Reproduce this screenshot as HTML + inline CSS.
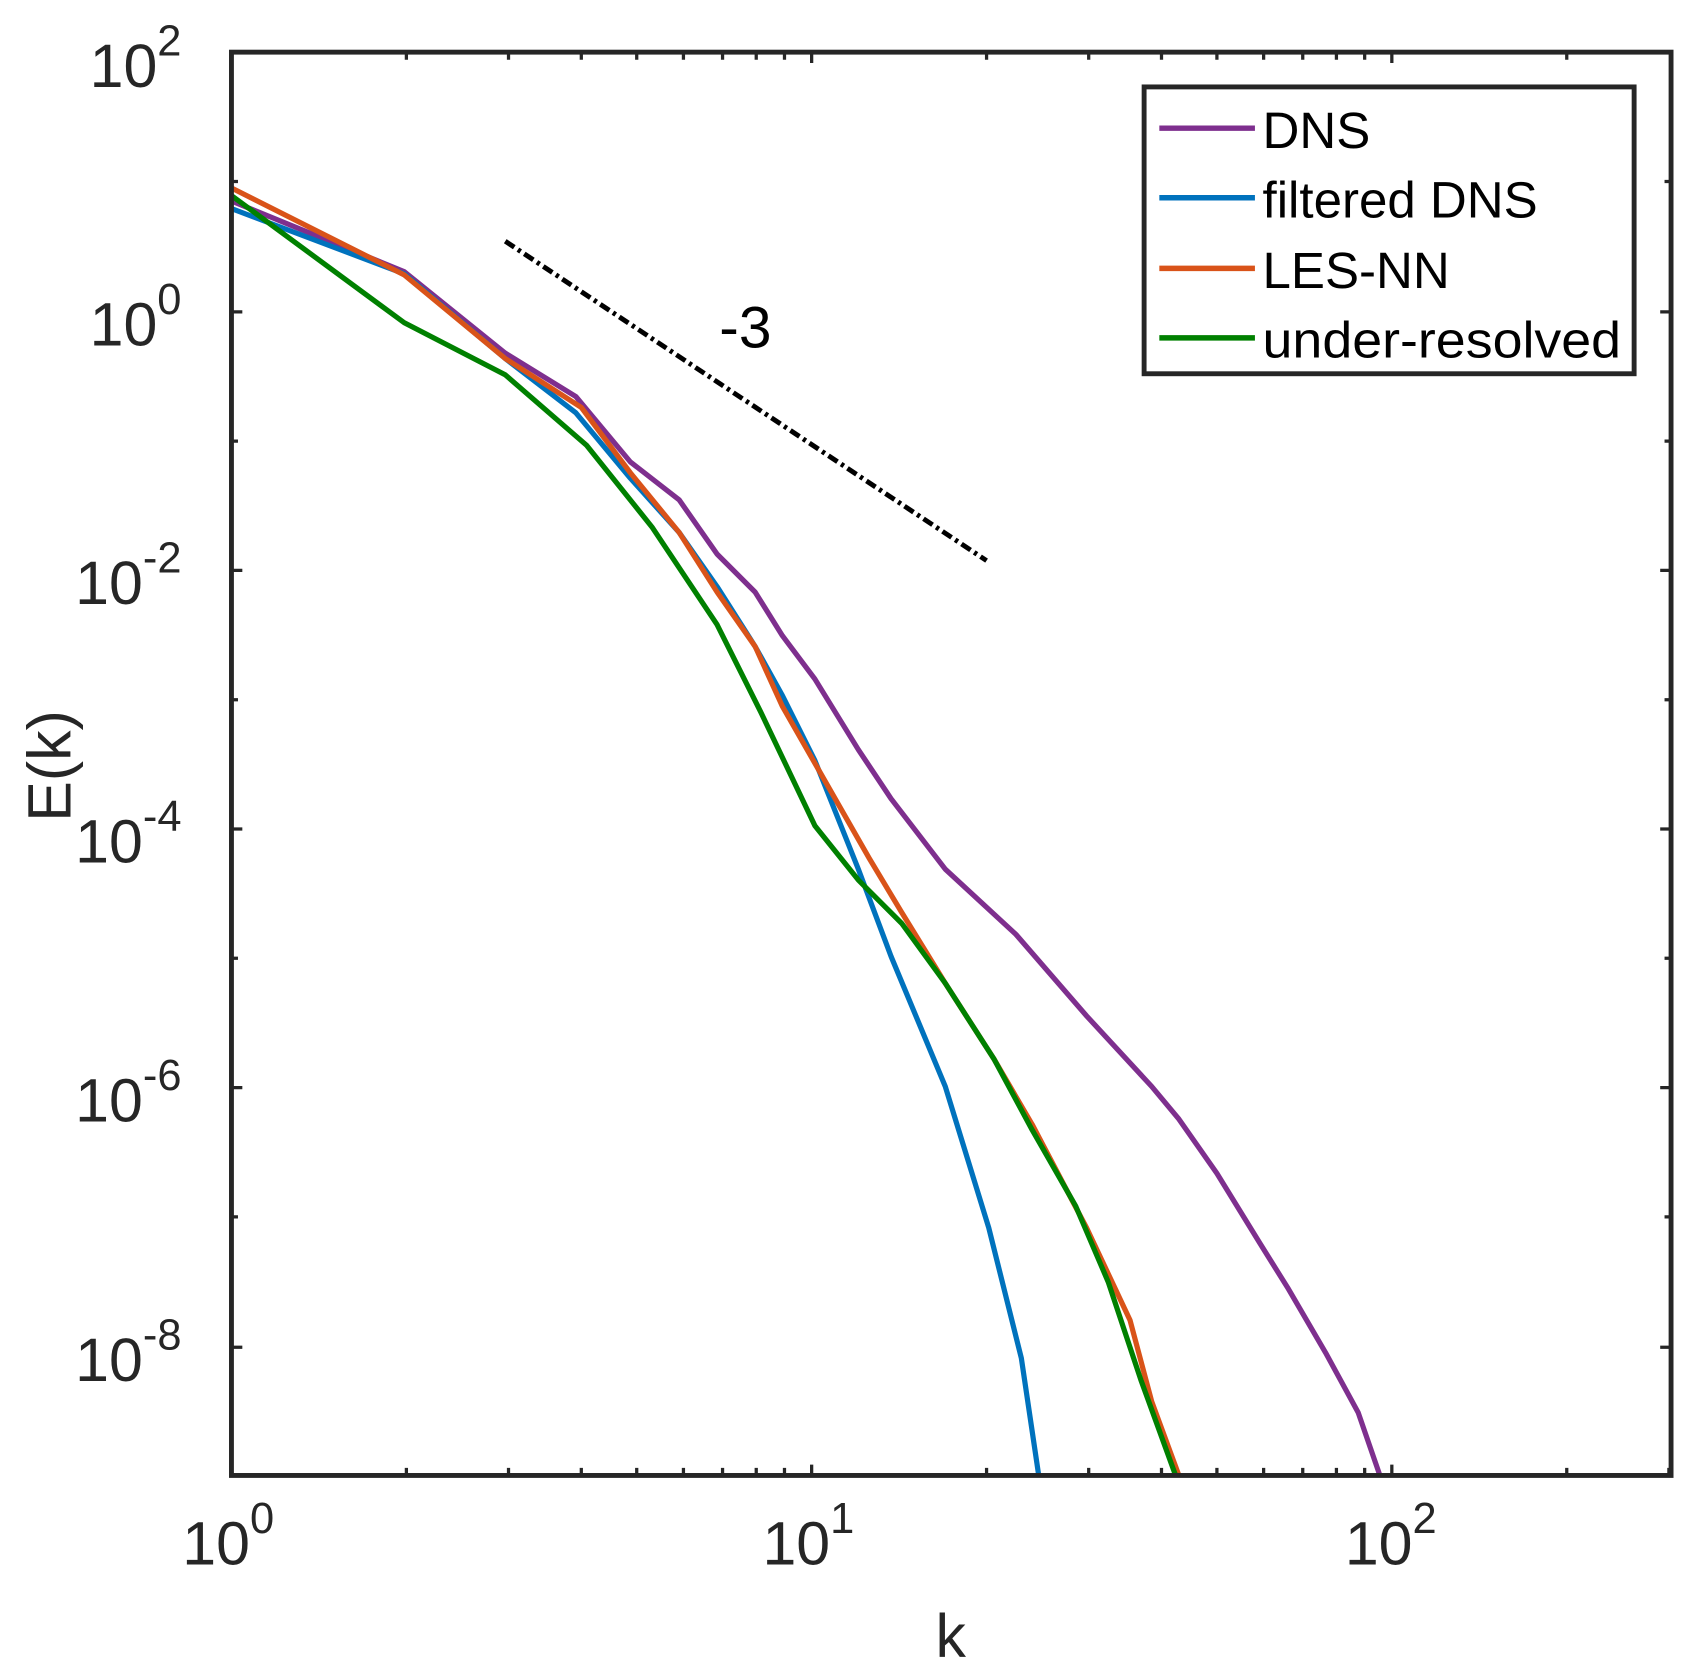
<!DOCTYPE html>
<html><head><meta charset="utf-8"><style>
html,body{margin:0;padding:0;background:#fff;}
svg{display:block;}
text{font-family:"Liberation Sans",Arial,sans-serif;fill:#262626;}
</style></head><body>
<svg width="1695" height="1677" viewBox="0 0 1560 1543.5" xmlns="http://www.w3.org/2000/svg">
<rect width="1560" height="1543.5" fill="#fff"/>
<g fill="none" stroke-linejoin="round" stroke-width="4.8">
<polyline stroke="#7E2F8E" points="213,185 372,250 465,325 530,365 580,425 625,460 660,510 695,545 720,585 750,625 790,690 820,735 870,800 935,860 1000,935 1060,1000 1085,1030 1120,1080 1160,1145 1185,1185 1220,1245 1250,1300 1270,1358"/>
<polyline stroke="#0072BD" points="213,192 372,252 465,330 530,380 580,440 625,490 660,540 695,595 720,640 750,700 790,800 820,880 870,1000 910,1130 940,1250 956,1358"/>
<polyline stroke="#D95319" points="213,173 372,253 465,330 535,375 580,435 625,490 660,545 695,595 720,650 760,720 800,790 830,840 870,905 915,975 950,1035 1000,1130 1040,1215 1060,1290 1085,1358"/>
<polyline stroke="#008000" points="213,180 372,297 465,345 540,410 600,485 660,575 700,655 750,760 790,810 830,850 870,905 915,975 950,1040 990,1110 1020,1180 1050,1270 1082,1358"/>
<line x1="465" y1="222" x2="908" y2="516" stroke="#000" stroke-width="4.5" stroke-dasharray="10,4,3,4"/>
</g>
<text x="686" y="320" font-size="54" text-anchor="middle" style="fill:#000">-3</text>
<g stroke="#262626" stroke-width="3">
<path d="M747,1358v-10M1281,1358v-10M747,48v10M1281,48v10
M374,1358v-7M468,1358v-7M535,1358v-7M586,1358v-7M629,1358v-7M665,1358v-7M696,1358v-7M722,1358v-7
M908,1358v-7M1002,1358v-7M1069,1358v-7M1120,1358v-7M1163,1358v-7M1199,1358v-7M1230,1358v-7M1256,1358v-7
M1442,1358v-7M1536,1358v-7
M374,48v7M468,48v7M535,48v7M586,48v7M629,48v7M665,48v7M696,48v7M722,48v7
M908,48v7M1002,48v7M1069,48v7M1120,48v7M1163,48v7M1199,48v7M1230,48v7M1256,48v7M1442,48v7"/>
<path d="M213,287h10M213,525h10M213,763h10M213,1001h10M213,1240h10
M1538,287h-10M1538,525h-10M1538,763h-10M1538,1001h-10M1538,1240h-10
M213,167h6M213,406h6M213,644h6M213,882h6M213,1120h6
M1538,167h-6M1538,406h-6M1538,644h-6M1538,882h-6M1538,1120h-6"/>
</g>
<rect x="213" y="48" width="1325" height="1310" fill="none" stroke="#262626" stroke-width="4.5"/>
<g font-size="56" text-anchor="end">
<text x="167" y="80">10<tspan font-size="40" dy="-29">2</tspan></text>
<text x="167" y="318">10<tspan font-size="40" dy="-29">0</tspan></text>
<text x="167" y="556">10<tspan font-size="40" dy="-29">-2</tspan></text>
<text x="167" y="794">10<tspan font-size="40" dy="-29">-4</tspan></text>
<text x="167" y="1032">10<tspan font-size="40" dy="-29">-6</tspan></text>
<text x="167" y="1271">10<tspan font-size="40" dy="-29">-8</tspan></text>
</g>
<g font-size="56" text-anchor="middle">
<text x="210" y="1440">10<tspan font-size="40" dy="-29">0</tspan></text>
<text x="744" y="1440">10<tspan font-size="40" dy="-29">1</tspan></text>
<text x="1280" y="1440">10<tspan font-size="40" dy="-29">2</tspan></text>
<text x="875" y="1525">k</text>
<text x="0" y="0" transform="translate(65,705) rotate(-90)">E(k)</text>
</g>
<rect x="1053" y="80" width="451" height="264" fill="#fff" stroke="#262626" stroke-width="4.5"/>
<g stroke-width="5">
<line x1="1067" y1="118" x2="1155" y2="118" stroke="#7E2F8E"/>
<line x1="1067" y1="182" x2="1155" y2="182" stroke="#0072BD"/>
<line x1="1067" y1="247" x2="1155" y2="247" stroke="#D95319"/>
<line x1="1067" y1="311" x2="1155" y2="311" stroke="#008000"/>
</g>
<g font-size="47">
<text x="1162" y="136" style="fill:#000">DNS</text>
<text x="1162" y="200" style="fill:#000">filtered DNS</text>
<text x="1162" y="265" style="fill:#000">LES-NN</text>
<text x="1162" y="329" style="fill:#000" textLength="330" lengthAdjust="spacingAndGlyphs">under-resolved</text>
</g>
</svg>
</body></html>
